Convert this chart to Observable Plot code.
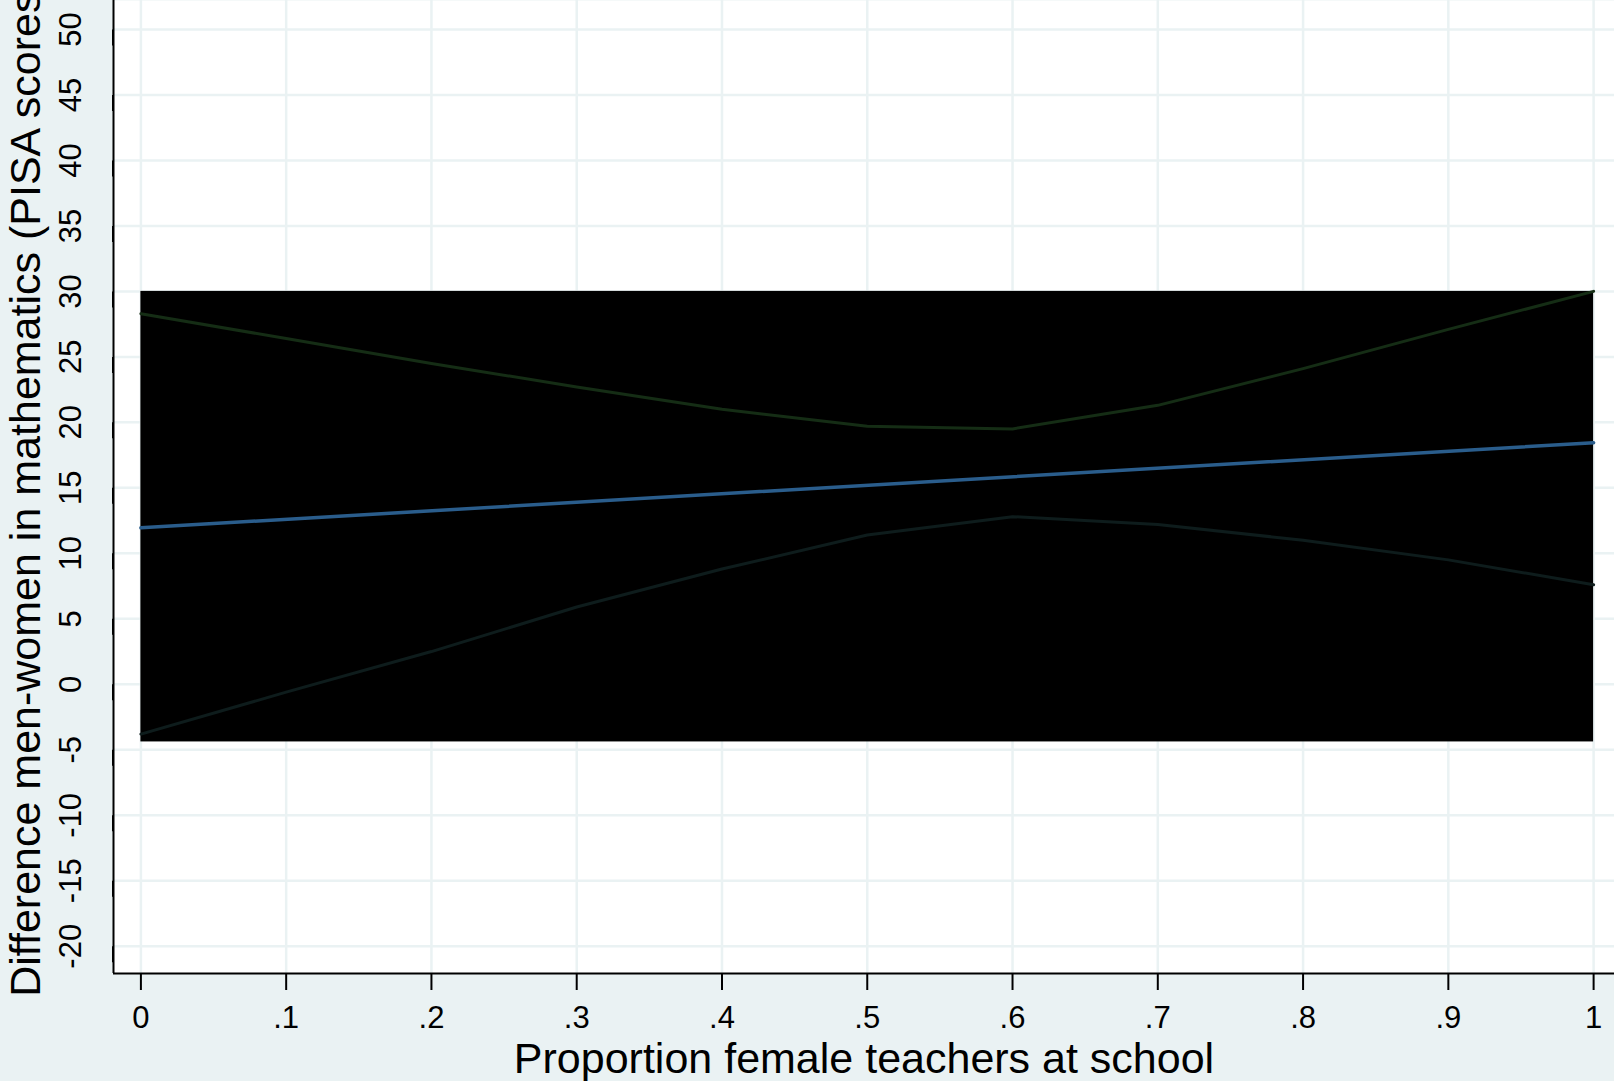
<!DOCTYPE html>
<html>
<head>
<meta charset="utf-8">
<script src="https://cdn.jsdelivr.net/npm/d3@7"></script>
<script src="https://cdn.jsdelivr.net/npm/@observablehq/plot@0.6"></script>
<style>
  html, body { margin: 0; padding: 0; background: #eaf2f3; }
  svg { display: block; }
</style>
</head>
<body>
<div id="chart"></div>
<script>
// ---- data ----
const xPoints = [0, 0.1, 0.2, 0.3, 0.4, 0.5, 0.6, 0.7, 0.8, 0.9, 1];
const upperCI = [28.3, 26.4, 24.5, 22.7, 21.0, 19.7, 19.5, 21.3, 24.1, 27.1, 30.0];
const lowerCI = [-3.8, -0.6, 2.5, 5.9, 8.8, 11.4, 12.8, 12.2, 11.0, 9.5, 7.6];
const fitX = [0, 1];
const fitY = [11.95, 18.45];
const bandX = [0, 1];
const bandY = [-4.4, 30.0];

const xTicks = [0, 0.1, 0.2, 0.3, 0.4, 0.5, 0.6, 0.7, 0.8, 0.9, 1];
const xTickLabels = ["0", ".1", ".2", ".3", ".4", ".5", ".6", ".7", ".8", ".9", "1"];
const yTicks = [-20, -15, -10, -5, 0, 5, 10, 15, 20, 25, 30, 35, 40, 45, 50];
const yTickLabels = ["-20", "-15", "-10", "-5", "0", "5", "10", "15", "20", "25", "30", "35", "40", "45", "50"];
const xTitle = "Proportion female teachers at school";
const yTitle = "Difference men-women in mathematics (PISA scores)";

const xDomain = [-0.01886, 1.01438];
const yDomain = [-22.08, 52.21];

const upperData = xPoints.map((x, i) => ({x, y: upperCI[i]}));
const lowerData = xPoints.map((x, i) => ({x, y: lowerCI[i]}));
const fitData = fitX.map((x, i) => ({x, y: fitY[i]}));
const band = [{x1: bandX[0], x2: bandX[1], y1: bandY[0], y2: bandY[1]}];

const gridColor = "#eaf2f3";

const chart = Plot.plot({
  width: 1614,
  height: 1081,
  marginLeft: 113,
  marginTop: 0,
  marginRight: 0,
  marginBottom: 108,
  x: {domain: xDomain},
  y: {domain: yDomain},
  style: {background: "#eaf2f3", fontFamily: "'Liberation Sans', Arial, Helvetica, sans-serif", color: "black"},
  marks: [
    Plot.frame({fill: "white", stroke: null}),
    Plot.gridX(xTicks, {stroke: gridColor, strokeOpacity: 1, strokeWidth: 2.5}),
    Plot.gridY(yTicks, {stroke: gridColor, strokeOpacity: 1, strokeWidth: 2.5}),
    Plot.rect(band, {x1: "x1", x2: "x2", y1: "y1", y2: "y2", fill: "black"}),
    Plot.line(upperData, {x: "x", y: "y", stroke: "#152d15", strokeWidth: 3}),
    Plot.line(lowerData, {x: "x", y: "y", stroke: "#0e1c1c", strokeWidth: 3}),
    Plot.line(fitData, {x: "x", y: "y", stroke: "#2a5d8c", strokeWidth: 3.5}),
    Plot.ruleX([xDomain[0]], {stroke: "black", strokeWidth: 2}),
    Plot.ruleY([yDomain[0]], {stroke: "black", strokeWidth: 2}),
    Plot.axisX(xTicks, {
      tickSize: 17, tickPadding: 15, fontSize: 31, strokeWidth: 2, stroke: "black",
      tickFormat: (d, i) => xTickLabels[i], label: null
    }),
    Plot.axisY(yTicks, {
      tickSize: 16, tickPadding: 17, fontSize: 31, strokeWidth: 2, stroke: "black",
      rotate: -90, textAnchor: "middle", lineAnchor: "bottom",
      tickFormat: (d, i) => yTickLabels[i], label: null
    }),
    Plot.text([xTitle], {frameAnchor: "bottom", dy: 99, lineAnchor: "bottom", fontSize: 43, fill: "black"}),
    Plot.text([yTitle], {frameAnchor: "left", dx: -74, rotate: -90, textAnchor: "middle", lineAnchor: "bottom", fontSize: 43, fill: "black"})
  ]
});
document.getElementById("chart").appendChild(chart);
</script>
</body>
</html>
